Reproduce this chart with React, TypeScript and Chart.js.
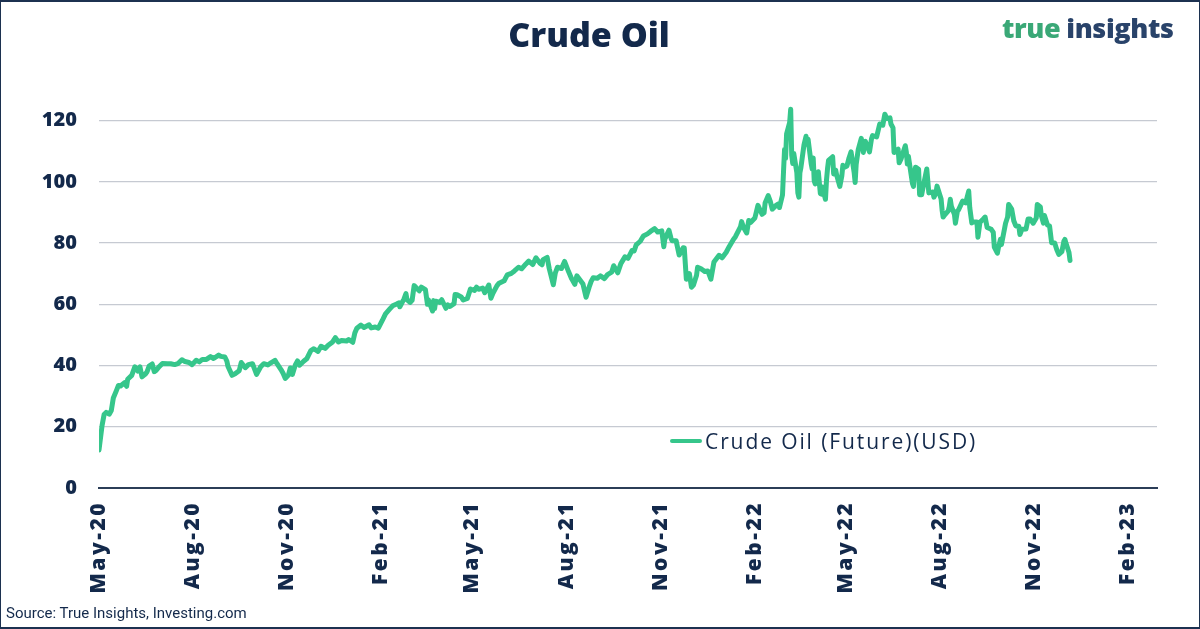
import React, { useEffect, useRef } from "react";
import { Chart, registerables } from "chart.js";

Chart.register(...registerables);

// ---- Axis definitions ----
const START_DATE = "2020-05-01";
const AXIS_END_DATE = "2023-03-01";
const tickDates = [
  "2020-05-01", "2020-08-01", "2020-11-01", "2021-02-01", "2021-05-01", "2021-08-01",
  "2021-11-01", "2022-02-01", "2022-05-01", "2022-08-01", "2022-11-01", "2023-02-01",
];
const tickLabels = [
  "May-20", "Aug-20", "Nov-20", "Feb-21", "May-21", "Aug-21",
  "Nov-21", "Feb-22", "May-22", "Aug-22", "Nov-22", "Feb-23",
];
const yTicks = [0, 20, 40, 60, 80, 100, 120];
const Y_MAX = 130;

// ---- Crude Oil (Future) USD ----
const oil2020: [string, number][] = [
  ["2020-05-01", 12.4], ["2020-05-04", 20.4], ["2020-05-06", 24.0], ["2020-05-08", 24.7],
  ["2020-05-11", 24.1], ["2020-05-13", 25.3], ["2020-05-15", 29.4], ["2020-05-18", 31.8],
  ["2020-05-20", 33.5], ["2020-05-22", 33.3], ["2020-05-26", 34.4], ["2020-05-28", 33.2],
  ["2020-05-29", 35.5], ["2020-06-02", 36.8], ["2020-06-05", 39.6], ["2020-06-08", 38.2],
  ["2020-06-10", 39.6], ["2020-06-12", 36.3], ["2020-06-15", 37.1], ["2020-06-17", 38.0],
  ["2020-06-19", 39.8], ["2020-06-22", 40.5], ["2020-06-24", 38.0], ["2020-06-26", 38.5],
  ["2020-06-29", 39.7], ["2020-07-02", 40.7], ["2020-07-07", 40.6], ["2020-07-10", 40.6],
  ["2020-07-14", 40.3], ["2020-07-17", 40.6], ["2020-07-21", 41.9], ["2020-07-24", 41.3],
  ["2020-07-28", 41.0], ["2020-07-31", 40.3], ["2020-08-04", 41.7], ["2020-08-07", 41.2],
  ["2020-08-10", 42.0], ["2020-08-14", 42.0], ["2020-08-18", 42.9], ["2020-08-21", 42.3],
  ["2020-08-26", 43.4], ["2020-08-28", 43.0], ["2020-09-01", 42.8], ["2020-09-03", 41.4],
  ["2020-09-04", 39.8], ["2020-09-08", 36.8], ["2020-09-11", 37.3], ["2020-09-15", 38.3],
  ["2020-09-17", 41.0], ["2020-09-21", 39.3], ["2020-09-24", 40.3], ["2020-09-28", 40.6],
  ["2020-10-02", 37.1], ["2020-10-06", 39.6], ["2020-10-09", 40.6], ["2020-10-13", 40.2],
  ["2020-10-16", 40.9], ["2020-10-20", 41.7], ["2020-10-22", 40.6], ["2020-10-26", 38.6],
  ["2020-10-28", 37.4], ["2020-10-30", 35.8], ["2020-11-02", 36.8], ["2020-11-04", 39.2],
  ["2020-11-06", 37.1], ["2020-11-09", 40.3], ["2020-11-11", 41.5], ["2020-11-13", 40.1],
  ["2020-11-17", 41.4], ["2020-11-20", 42.2], ["2020-11-24", 44.9], ["2020-11-27", 45.5],
  ["2020-12-01", 44.6], ["2020-12-04", 46.3], ["2020-12-08", 45.6], ["2020-12-11", 46.6],
  ["2020-12-15", 47.6], ["2020-12-18", 49.1], ["2020-12-21", 47.7], ["2020-12-24", 48.2],
  ["2020-12-29", 48.0], ["2020-12-31", 48.5],
];

const oil2021: [string, number][] = [
  ["2021-01-04", 47.6], ["2021-01-06", 50.6], ["2021-01-08", 52.2], ["2021-01-12", 53.2],
  ["2021-01-15", 52.4], ["2021-01-20", 53.3], ["2021-01-22", 52.3], ["2021-01-26", 52.6],
  ["2021-01-29", 52.2], ["2021-02-02", 54.8], ["2021-02-05", 56.9], ["2021-02-09", 58.4],
  ["2021-02-12", 59.5], ["2021-02-16", 60.1], ["2021-02-18", 60.5], ["2021-02-19", 59.2],
  ["2021-02-23", 61.7], ["2021-02-25", 63.5], ["2021-02-26", 61.5], ["2021-03-01", 60.6],
  ["2021-03-03", 61.3], ["2021-03-05", 66.1], ["2021-03-08", 65.1], ["2021-03-10", 64.4],
  ["2021-03-12", 65.6], ["2021-03-16", 64.8], ["2021-03-18", 60.0], ["2021-03-19", 61.4],
  ["2021-03-23", 57.8], ["2021-03-24", 61.2], ["2021-03-25", 58.6], ["2021-03-26", 61.0],
  ["2021-03-30", 60.6], ["2021-04-01", 61.5], ["2021-04-05", 58.7], ["2021-04-07", 59.8],
  ["2021-04-09", 59.3], ["2021-04-13", 60.2], ["2021-04-14", 63.2], ["2021-04-16", 63.1],
  ["2021-04-20", 62.4], ["2021-04-22", 61.4], ["2021-04-26", 61.9], ["2021-04-29", 65.0],
  ["2021-05-03", 64.5], ["2021-05-05", 65.6], ["2021-05-07", 64.9], ["2021-05-11", 65.3],
  ["2021-05-13", 63.8], ["2021-05-17", 66.3], ["2021-05-19", 62.0], ["2021-05-21", 63.6],
  ["2021-05-25", 66.1], ["2021-05-27", 66.9], ["2021-06-01", 67.7], ["2021-06-04", 69.6],
  ["2021-06-08", 70.1], ["2021-06-11", 70.9], ["2021-06-15", 72.1], ["2021-06-18", 71.6],
  ["2021-06-22", 73.1], ["2021-06-25", 74.1], ["2021-06-29", 73.0], ["2021-07-02", 75.2],
  ["2021-07-06", 73.4], ["2021-07-08", 72.9], ["2021-07-09", 74.6], ["2021-07-13", 75.3],
  ["2021-07-15", 71.7], ["2021-07-19", 66.4], ["2021-07-21", 70.3], ["2021-07-23", 72.1],
  ["2021-07-27", 71.7], ["2021-07-30", 74.0], ["2021-08-03", 70.6], ["2021-08-06", 68.3],
  ["2021-08-09", 66.5], ["2021-08-11", 69.3], ["2021-08-13", 68.4], ["2021-08-17", 66.6],
  ["2021-08-20", 62.3], ["2021-08-23", 65.6], ["2021-08-25", 67.5], ["2021-08-27", 68.7],
  ["2021-08-31", 68.5], ["2021-09-03", 69.3], ["2021-09-07", 68.4], ["2021-09-10", 69.7],
  ["2021-09-14", 70.5], ["2021-09-16", 72.6], ["2021-09-20", 70.3], ["2021-09-23", 73.3],
  ["2021-09-27", 75.5], ["2021-09-30", 75.0], ["2021-10-04", 77.6], ["2021-10-06", 77.4],
  ["2021-10-08", 79.4], ["2021-10-12", 80.6], ["2021-10-15", 82.3], ["2021-10-19", 83.0],
  ["2021-10-22", 83.8], ["2021-10-26", 84.7], ["2021-10-29", 83.6], ["2021-11-02", 84.0],
  ["2021-11-04", 78.8], ["2021-11-05", 81.3], ["2021-11-09", 84.2], ["2021-11-11", 81.6],
  ["2021-11-12", 80.8], ["2021-11-16", 80.8], ["2021-11-19", 76.1], ["2021-11-23", 78.5],
  ["2021-11-24", 78.4], ["2021-11-26", 68.2], ["2021-11-29", 70.0], ["2021-12-01", 65.6],
  ["2021-12-03", 66.3], ["2021-12-06", 69.5], ["2021-12-07", 72.1], ["2021-12-10", 71.7],
  ["2021-12-14", 70.7], ["2021-12-17", 70.9], ["2021-12-20", 68.2], ["2021-12-23", 73.8],
  ["2021-12-28", 76.0], ["2021-12-31", 75.2],
];

const oil2022: [string, number][] = [
  ["2022-01-04", 77.0], ["2022-01-07", 78.9], ["2022-01-11", 81.2], ["2022-01-13", 82.1],
  ["2022-01-18", 85.4], ["2022-01-19", 87.0], ["2022-01-21", 85.1], ["2022-01-24", 83.3],
  ["2022-01-26", 87.4], ["2022-01-28", 86.8], ["2022-02-01", 88.2], ["2022-02-04", 92.3],
  ["2022-02-08", 89.4], ["2022-02-10", 89.9], ["2022-02-11", 93.1], ["2022-02-14", 95.5],
  ["2022-02-16", 93.7], ["2022-02-18", 91.1], ["2022-02-22", 92.4], ["2022-02-24", 92.8],
  ["2022-02-25", 91.6], ["2022-02-28", 95.7], ["2022-03-01", 103.4], ["2022-03-02", 110.6],
  ["2022-03-03", 107.7], ["2022-03-04", 115.7], ["2022-03-07", 119.4], ["2022-03-08", 123.7],
  ["2022-03-09", 108.7], ["2022-03-10", 106.0], ["2022-03-11", 109.3], ["2022-03-14", 103.0],
  ["2022-03-15", 96.4], ["2022-03-16", 95.0], ["2022-03-17", 103.0], ["2022-03-18", 104.7],
  ["2022-03-21", 112.1], ["2022-03-23", 114.9], ["2022-03-24", 112.3], ["2022-03-25", 113.9],
  ["2022-03-28", 106.0], ["2022-03-29", 104.2], ["2022-03-30", 107.8], ["2022-03-31", 100.3],
  ["2022-04-01", 99.3], ["2022-04-04", 103.3], ["2022-04-06", 96.2], ["2022-04-07", 96.0],
  ["2022-04-08", 98.3], ["2022-04-11", 94.3], ["2022-04-12", 100.6], ["2022-04-13", 104.3],
  ["2022-04-14", 107.0], ["2022-04-18", 108.2], ["2022-04-19", 102.6], ["2022-04-21", 103.8],
  ["2022-04-22", 102.1], ["2022-04-25", 98.5], ["2022-04-27", 102.0], ["2022-04-28", 105.4],
  ["2022-04-29", 104.7], ["2022-05-02", 105.2], ["2022-05-04", 107.8], ["2022-05-06", 109.8],
  ["2022-05-09", 103.1], ["2022-05-10", 99.8], ["2022-05-11", 105.7], ["2022-05-13", 110.5],
  ["2022-05-16", 114.2], ["2022-05-18", 109.6], ["2022-05-19", 112.2], ["2022-05-20", 113.2],
  ["2022-05-24", 109.8], ["2022-05-26", 114.1], ["2022-05-27", 115.1], ["2022-05-31", 114.7],
  ["2022-06-03", 118.9], ["2022-06-06", 118.5], ["2022-06-08", 122.1], ["2022-06-10", 120.7],
  ["2022-06-13", 120.9], ["2022-06-14", 118.9], ["2022-06-16", 117.6], ["2022-06-17", 109.6],
  ["2022-06-21", 110.7], ["2022-06-22", 106.2], ["2022-06-24", 107.6], ["2022-06-28", 111.8],
  ["2022-06-29", 109.8], ["2022-06-30", 105.8], ["2022-07-01", 108.4], ["2022-07-05", 99.5],
  ["2022-07-06", 98.5], ["2022-07-07", 102.7], ["2022-07-08", 104.8], ["2022-07-11", 104.1],
  ["2022-07-12", 95.8], ["2022-07-14", 95.8], ["2022-07-15", 97.6], ["2022-07-18", 102.6],
  ["2022-07-19", 104.2], ["2022-07-21", 96.4], ["2022-07-25", 96.7], ["2022-07-26", 95.0],
  ["2022-07-28", 96.4], ["2022-07-29", 98.6], ["2022-08-02", 94.4], ["2022-08-03", 90.7],
  ["2022-08-04", 88.5], ["2022-08-05", 89.0], ["2022-08-09", 90.5], ["2022-08-10", 91.9],
  ["2022-08-11", 94.3], ["2022-08-12", 92.1], ["2022-08-15", 89.4], ["2022-08-16", 86.5],
  ["2022-08-18", 90.5], ["2022-08-19", 90.8], ["2022-08-23", 93.7], ["2022-08-26", 93.1],
  ["2022-08-29", 97.0], ["2022-08-30", 91.6], ["2022-09-01", 86.6], ["2022-09-02", 86.9],
  ["2022-09-06", 86.9], ["2022-09-07", 81.9], ["2022-09-09", 86.8], ["2022-09-12", 87.8],
  ["2022-09-14", 88.5], ["2022-09-16", 85.1], ["2022-09-20", 84.5], ["2022-09-22", 83.5],
  ["2022-09-23", 78.7], ["2022-09-26", 76.7], ["2022-09-27", 78.5], ["2022-09-29", 81.2],
  ["2022-09-30", 79.5], ["2022-10-04", 86.5], ["2022-10-06", 88.5], ["2022-10-07", 92.6],
  ["2022-10-10", 91.1], ["2022-10-12", 87.3], ["2022-10-14", 85.6], ["2022-10-17", 85.5],
  ["2022-10-18", 82.8], ["2022-10-20", 84.5], ["2022-10-24", 84.6], ["2022-10-26", 87.9],
  ["2022-10-28", 87.9], ["2022-10-31", 86.5], ["2022-11-03", 88.2], ["2022-11-04", 92.6],
  ["2022-11-07", 91.8], ["2022-11-08", 88.9], ["2022-11-10", 86.5], ["2022-11-11", 89.0],
  ["2022-11-14", 85.9], ["2022-11-16", 85.6], ["2022-11-18", 80.1], ["2022-11-21", 80.0],
  ["2022-11-23", 77.9], ["2022-11-25", 76.3], ["2022-11-28", 77.2], ["2022-11-30", 80.6],
  ["2022-12-01", 81.2], ["2022-12-02", 80.0], ["2022-12-05", 76.9], ["2022-12-06", 74.3],
];

const SERIES_LABEL = "Crude Oil (Future)(USD)";
const TITLE = "Crude Oil";
const SOURCE = "Source: True Insights, Investing.com";

const NAVY = "#13294b";
const GREEN = "#36c68b";

const dayOf = (d: string) => (Date.parse(d) - Date.parse(START_DATE)) / 86400000;

const xLabelSpacing = {
  id: "xLabelSpacing",
  afterDatasetsDraw(chart: any) {
    chart.ctx.letterSpacing = "2.5px";
  },
  afterDraw(chart: any) {
    chart.ctx.letterSpacing = "0px";
  },
};

export default function App() {
  const canvasRef = useRef<HTMLCanvasElement | null>(null);

  useEffect(() => {
    document.body.style.margin = "0";
    const canvas = canvasRef.current;
    if (!canvas) return;
    const points = [...oil2020, ...oil2021, ...oil2022].map(([d, v]) => ({ x: dayOf(d), y: v }));
    const tickDays = tickDates.map(dayOf);

    const chart = new Chart(canvas, {
      type: "line",
      data: {
        datasets: [
          {
            label: SERIES_LABEL,
            data: points,
            borderColor: GREEN,
            backgroundColor: GREEN,
            borderWidth: 5,
            pointRadius: 0,
            tension: 0,
            borderJoinStyle: "round",
            borderCapStyle: "round",
          },
        ],
      },
      options: {
        animation: false,
        responsive: false,
        layout: { padding: { top: 90, right: 43, bottom: 0, left: 0 } },
        plugins: {
          legend: { display: false },
          tooltip: { enabled: false },
          title: { display: false },
        },
        scales: {
          x: {
            type: "linear",
            min: 0,
            max: dayOf(AXIS_END_DATE),
            afterFit: (s: any) => {
              s.height = 141;
            },
            afterBuildTicks: (s: any) => {
              s.ticks = tickDays.map((v) => ({ value: v }));
            },
            ticks: {
              autoSkip: false,
              minRotation: 90,
              maxRotation: 90,
              padding: 13,
              z: 1,
              color: NAVY,
              font: { family: "'Open Sans'", weight: 800, size: 21 },
              callback: (v: any) => {
                const i = tickDays.indexOf(Number(v));
                return i >= 0 ? tickLabels[i] : "";
              },
            },
            grid: { display: false, drawTicks: false },
            border: { display: true, color: "#2b3d57", width: 2 },
          },
          y: {
            min: 0,
            max: Y_MAX,
            afterFit: (s: any) => {
              s.width = 99;
            },
            afterBuildTicks: (s: any) => {
              s.ticks = yTicks.map((v) => ({ value: v }));
            },
            ticks: {
              padding: 22,
              color: NAVY,
              font: { family: "'Open Sans'", weight: 800, size: 20 },
            },
            grid: {
              drawTicks: false,
              color: (ctx: any) => (ctx.tick && ctx.tick.value === 0 ? "rgba(0,0,0,0)" : "#c6cad2"),
              lineWidth: 1.2,
            },
            border: { display: false },
          },
        },
      },
      plugins: [xLabelSpacing],
    } as any);

    return () => chart.destroy();
  }, []);

  return (
    <div
      style={{
        position: "relative",
        width: 1200,
        height: 629,
        background: "#ffffff",
        overflow: "hidden",
        fontFamily: "'Open Sans', sans-serif",
      }}
    >
      <canvas ref={canvasRef} width={1200} height={629} style={{ position: "absolute", left: 0, top: 0 }} />
      <div
        style={{
          position: "absolute",
          left: 389,
          width: 400,
          top: 17,
          textAlign: "center",
          fontSize: 34,
          lineHeight: "34px",
          fontWeight: 800,
          color: NAVY,
        }}
      >
        {TITLE}
      </div>
      <div
        style={{
          position: "absolute",
          left: 1002,
          top: 14,
          fontSize: 27,
          lineHeight: "27px",
          fontWeight: 800,
          letterSpacing: "-0.4px",
          whiteSpace: "nowrap",
        }}
      >
        <span style={{ color: "#3aa877" }}>true</span>
        <span style={{ color: "#29436a", marginLeft: 6 }}>insights</span>
      </div>
      <div
        style={{
          position: "absolute",
          left: 670,
          top: 428,
          height: 26,
          display: "flex",
          alignItems: "center",
          whiteSpace: "nowrap",
        }}
      >
        <div style={{ width: 32, height: 4, background: GREEN, borderRadius: 2 }} />
        <div
          style={{
            marginLeft: 3,
            fontSize: 21,
            lineHeight: "26px",
            letterSpacing: "1.9px",
            color: NAVY,
          }}
        >
          {SERIES_LABEL}
        </div>
      </div>
      <div
        style={{
          position: "absolute",
          left: 6,
          top: 605,
          fontFamily: "Roboto, sans-serif",
          fontSize: 15,
          lineHeight: "16px",
          color: NAVY,
          whiteSpace: "nowrap",
        }}
      >
        {SOURCE}
      </div>
      <div
        style={{
          position: "absolute",
          left: 0,
          top: 0,
          width: 1200,
          height: 629,
          boxSizing: "border-box",
          borderStyle: "solid",
          borderColor: "#1c3150",
          borderWidth: "2px 1px 2px 1px",
          pointerEvents: "none",
        }}
      />
    </div>
  );
}
